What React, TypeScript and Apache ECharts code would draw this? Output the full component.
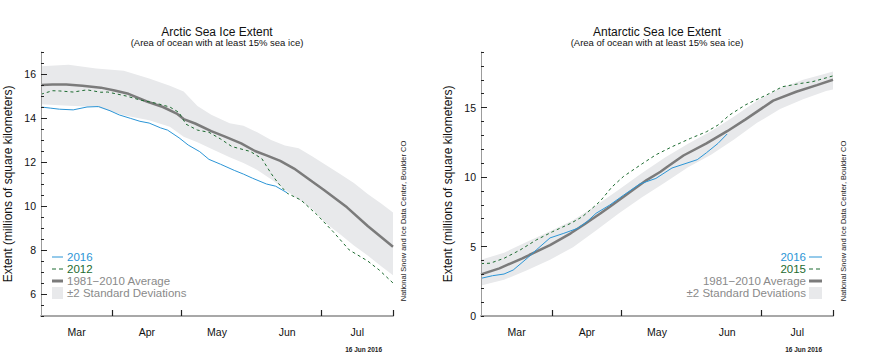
import React, { useEffect, useRef } from "react";
import * as echarts from "echarts";

// ---------- Data (day 0 = 1 March) ----------
const monthNames = ["Mar", "Apr", "May", "Jun", "Jul"];
const monthMidDays = [15.5, 46, 76.5, 107, 137.5];
const monthTickDays = [31, 61, 122, 153];

const arcticYLabels = [6, 8, 10, 12, 14, 16];
const antarcticYLabels = [0, 5, 10, 15];
const antarcticMajorTicks = [5, 10, 15];

const arctic2016: [number, number][] = [
  [0, 14.5], [4, 14.45], [8, 14.4], [14, 14.37], [20, 14.5], [25, 14.52], [30, 14.33],
  [34, 14.14], [39, 13.98], [43, 13.85], [47, 13.77], [52, 13.55], [55, 13.45], [60, 13.1],
  [64, 12.77], [69, 12.47], [73, 12.12], [78, 11.9], [84, 11.62], [88, 11.45], [92, 11.26],
  [98, 11.0], [102, 10.9], [107, 10.6],
];
const arctic2012: [number, number][] = [
  [0, 15.08], [5, 15.24], [8, 15.23], [14, 15.18], [20, 15.28], [26, 15.17], [29, 15.18],
  [37, 15.0], [43, 14.82], [50, 14.67], [56, 14.5], [60, 14.25], [63, 13.72], [68, 13.45],
  [73, 13.35], [78, 13.05], [83, 12.7], [91, 12.48], [96, 12.15], [100, 11.48], [103, 11.05],
  [107, 10.58], [113, 10.27], [120, 9.6], [127, 8.83], [134, 8.0], [142, 7.5], [147, 7.09],
  [153, 6.5],
];
const arcticAvg: [number, number][] = [
  [0, 15.5], [5, 15.52], [11, 15.52], [18, 15.47], [26, 15.38], [32, 15.25], [38, 15.1],
  [46, 14.75], [53, 14.5], [59, 14.2], [62, 13.95], [67, 13.75], [74, 13.4], [80, 13.15],
  [87, 12.85], [93, 12.5], [98, 12.3], [104, 12.05], [110, 11.7], [118, 11.1], [123, 10.73],
  [133, 9.94], [142, 9.09], [153, 8.15],
];
const arcticBandDays = [0, 12, 24, 36, 47, 56, 62, 68, 74, 82, 88, 94, 100, 106, 112, 118, 124, 130, 136, 142, 148, 153];
const arcticBandHigh = [16.35, 16.42, 16.25, 16.15, 15.8, 15.47, 15.2, 14.55, 14.15, 13.76, 13.65, 13.35, 13.0, 12.75, 12.62, 12.25, 11.85, 11.45, 11.05, 10.55, 10.1, 9.7];
const arcticBandLow = [14.62, 14.56, 14.5, 14.12, 13.9, 13.6, 13.15, 12.9, 12.6, 12.22, 11.95, 11.64, 11.22, 10.75, 10.3, 9.85, 9.2, 8.72, 8.2, 7.75, 7.25, 6.85];

const antarctic2016: [number, number][] = [
  [0, 2.71], [5, 2.9], [10, 3.02], [14, 3.31], [20, 4.15], [24, 4.75], [30, 5.62], [36, 5.95],
  [42, 6.31], [46, 6.78], [50, 7.39], [56, 7.99], [62, 8.7], [69, 9.5], [76, 9.9], [83, 10.65],
  [94, 11.25], [98, 11.75], [103, 12.42], [107, 13.1],
];
const antarctic2015: [number, number][] = [
  [0, 3.77], [4, 3.8], [10, 4.15], [17, 4.75], [24, 5.47], [31, 6.06], [39, 6.67], [44, 7.14],
  [50, 7.99], [52, 8.3], [57, 9.3], [62, 10.05], [70, 10.95], [76, 11.6], [83, 12.18],
  [91, 12.78], [98, 13.26], [103, 13.74], [108, 14.46], [115, 15.2], [124, 15.9], [131, 16.5],
  [139, 16.74], [144, 16.86], [153, 17.28],
];
const antarcticAvg: [number, number][] = [
  [0, 3.0], [8, 3.43], [18, 4.15], [21, 4.39], [30, 5.1], [39, 5.95], [45, 6.6], [52, 7.39],
  [56, 7.86], [62, 8.58], [69, 9.42], [72, 9.78], [78, 10.38], [81, 10.74], [88, 11.55],
  [98, 12.42], [107, 13.3], [115, 14.15], [127, 15.5], [137, 16.14], [146, 16.62], [153, 17.0],
];
const antarcticBandDays = [0, 10, 20, 30, 40, 50, 60, 70, 80, 90, 100, 110, 120, 130, 140, 150, 153];
const antarcticBandHigh = [4.05, 4.55, 5.35, 6.1, 6.9, 7.95, 9.1, 10.3, 11.4, 12.4, 13.3, 14.35, 15.5, 16.4, 17.0, 17.45, 17.6];
const antarcticBandLow = [2.2, 2.6, 3.3, 4.05, 4.95, 6.15, 7.4, 8.55, 9.6, 10.7, 11.6, 12.7, 13.9, 14.9, 15.6, 16.2, 16.3];

// ---------- Styles ----------
const FONT = "'Liberation Sans', Arial, Helvetica, sans-serif";
const BLUE = "#2b95d6";
const GREEN = "#1d6b30";
const AVG = "#7b7b7b";
const BAND = "#e8e9eb";
const LEGEND_GRAY = "#8a8a8a";
const TICK = "#222";

function monthFormatter(v: number) {
  let best = 0;
  for (let i = 0; i < monthMidDays.length; i++) {
    if (Math.abs(monthMidDays[i] - v) < Math.abs(monthMidDays[best] - v)) best = i;
  }
  return monthNames[best];
}

function makeXAxis(gridIndex: number) {
  return {
    gridIndex,
    type: "value",
    position: "bottom",
    min: 0,
    max: 153,
    z: 10,
    axisLine: { show: true, onZero: false, lineStyle: { color: "#a8a8a8", width: 2 } },
    axisTick: { show: true, inside: true, length: 6, customValues: monthTickDays, lineStyle: { color: TICK, width: 1.2 } },
    axisLabel: {
      customValues: monthMidDays,
      formatter: monthFormatter,
      margin: 10,
      fontSize: 10.5,
      fontFamily: FONT,
      color: "#111",
    },
    splitLine: { show: false },
  };
}

function bandSeries(xi: number, yi: number, days: number[], low: number[], high: number[]) {
  return {
    type: "custom",
    name: "±2 Standard Deviations",
    xAxisIndex: xi,
    yAxisIndex: yi,
    silent: true,
    z: 1,
    clip: true,
    encode: { x: 0, y: [1, 2] },
    data: days.map((d, i) => [d, low[i], high[i]]),
    renderItem: (params: any, api: any) => {
      if (params.dataIndex !== 0) return null;
      const pts: number[][] = [];
      for (let i = 0; i < days.length; i++) pts.push(api.coord([days[i], high[i]]));
      for (let i = days.length - 1; i >= 0; i--) pts.push(api.coord([days[i], low[i]]));
      return {
        type: "polygon",
        shape: { points: pts },
        style: { fill: BAND, stroke: null },
      };
    },
  };
}

function lineSeries(name: string, xi: number, yi: number, data: [number, number][], color: string, width: number, dashed: boolean, z: number) {
  return {
    type: "line",
    name,
    xAxisIndex: xi,
    yAxisIndex: yi,
    symbol: "none",
    data,
    z,
    lineStyle: { color, width, type: dashed ? [3, 3] : "solid" },
  };
}

function legendLeft(x: number, labels: string[], colors: string[]) {
  const ys = [257, 269, 281, 292.5];
  const els: any[] = [];
  els.push({ type: "line", z: 100, shape: { x1: x, y1: ys[0], x2: x + 11, y2: ys[0] }, style: { stroke: BLUE, lineWidth: 1 } });
  els.push({ type: "line", z: 100, shape: { x1: x, y1: ys[1], x2: x + 12, y2: ys[1] }, style: { stroke: GREEN, lineWidth: 1, lineDash: [4, 3] } });
  els.push({ type: "line", z: 100, shape: { x1: x, y1: ys[2], x2: x + 11, y2: ys[2] }, style: { stroke: AVG, lineWidth: 3 } });
  els.push({ type: "rect", z: 100, shape: { x, y: 287, width: 11, height: 12 }, style: { fill: BAND } });
  labels.forEach((t, i) => {
    els.push({
      type: "text",
      z: 100,
      x: x + 15,
      y: ys[i],
      style: { text: t, fill: colors[i], font: `11.5px ${FONT}`, align: "left", verticalAlign: "middle", textAlign: "left", textVerticalAlign: "middle" },
    });
  });
  return els;
}

function legendRight(xr: number, labels: string[], colors: string[]) {
  const ys = [257, 269, 281, 292.5];
  const sx = xr + 3;
  const els: any[] = [];
  els.push({ type: "line", z: 100, shape: { x1: sx, y1: ys[0], x2: sx + 13, y2: ys[0] }, style: { stroke: BLUE, lineWidth: 1 } });
  els.push({ type: "line", z: 100, shape: { x1: sx, y1: ys[1], x2: sx + 13, y2: ys[1] }, style: { stroke: GREEN, lineWidth: 1, lineDash: [4, 3] } });
  els.push({ type: "line", z: 100, shape: { x1: sx, y1: ys[2], x2: sx + 13, y2: ys[2] }, style: { stroke: AVG, lineWidth: 3 } });
  els.push({ type: "rect", z: 100, shape: { x: sx, y: 287, width: 13, height: 12 }, style: { fill: BAND } });
  labels.forEach((t, i) => {
    els.push({
      type: "text",
      z: 100,
      x: xr,
      y: ys[i],
      style: { text: t, fill: colors[i], font: `11.5px ${FONT}`, align: "right", verticalAlign: "middle", textAlign: "right", textVerticalAlign: "middle" },
    });
  });
  return els;
}

function titleTexts(cx: number, title: string) {
  return [
    {
      type: "text", x: cx, y: 31.5,
      style: { text: title, fill: "#111", font: `12px ${FONT}`, align: "center", verticalAlign: "middle", textAlign: "center", textVerticalAlign: "middle" },
    },
    {
      type: "text", x: cx, y: 42.5,
      style: { text: "(Area of ocean with at least 15% sea ice)", fill: "#111", font: `9.5px ${FONT}`, align: "center", verticalAlign: "middle", textAlign: "center", textVerticalAlign: "middle" },
    },
  ];
}

function sideTexts(x: number, dateX: number) {
  return [
    {
      type: "text", x, y: 221, rotation: Math.PI / 2,
      style: { text: "National Snow and Ice Data Center, Boulder CO", fill: "#222", font: `7.5px ${FONT}`, align: "center", verticalAlign: "middle", textAlign: "center", textVerticalAlign: "middle" },
    },
    {
      type: "text", x: dateX, y: 349,
      style: { text: "16 Jun 2016", fill: "#222", font: `bold 6.5px ${FONT}`, align: "right", verticalAlign: "middle", textAlign: "right", textVerticalAlign: "middle" },
    },
  ];
}

function yAxes(gridIndex: number, min: number, max: number, interval: number, labels: number[], major: number[]) {
  return [
    {
      gridIndex,
      type: "value",
      position: "left",
      min,
      max,
      interval,
      z: 10,
      axisLine: { show: true, lineStyle: { color: "#9c9c9c", width: 1 } },
      axisTick: { show: true, inside: true, length: 3, lineStyle: { color: TICK, width: 1 } },
      axisLabel: { customValues: labels, margin: 5, fontSize: 10.5, fontFamily: FONT, color: "#111" },
      splitLine: { show: false },
      name: "Extent (millions of square kilometers)",
      nameLocation: "middle",
      nameGap: 27,
      nameTextStyle: { fontSize: 12, fontFamily: FONT, color: "#111" },
    },
    {
      gridIndex,
      type: "value",
      position: "left",
      min,
      max,
      interval,
      z: 10,
      axisLine: { show: false },
      axisTick: { show: true, inside: true, length: 6, customValues: major, lineStyle: { color: TICK, width: 1 } },
      axisLabel: { show: false },
      splitLine: { show: false },
    },
  ];
}

export default function App() {
  const ref = useRef<HTMLDivElement>(null);

  useEffect(() => {
    if (!ref.current) return;
    const chart = echarts.init(ref.current, undefined, { renderer: "svg" });
    const legendLabels = ["2016", "2012", "1981\u22122010 Average", "±2 Standard Deviations"];
    const legendLabels2 = ["2016", "2015", "1981\u22122010 Average", "±2 Standard Deviations"];
    const legendColors = [BLUE, GREEN, LEGEND_GRAY, LEGEND_GRAY];

    chart.setOption({
      animation: false,
      backgroundColor: "#ffffff",
      textStyle: { fontFamily: FONT },
      grid: [
        { left: 41, top: 52, width: 352, height: 264, containLabel: false },
        { left: 481, top: 52, width: 352, height: 264, containLabel: false },
      ],
      xAxis: [makeXAxis(0), makeXAxis(1)],
      yAxis: [
        ...yAxes(0, 5, 17, 0.5, arcticYLabels, arcticYLabels),
        ...yAxes(1, 0, 19, 1, antarcticYLabels, antarcticMajorTicks),
      ],
      series: [
        bandSeries(0, 0, arcticBandDays, arcticBandLow, arcticBandHigh),
        lineSeries("1981\u22122010 Average", 0, 0, arcticAvg, AVG, 2.5, false, 3),
        lineSeries("2012", 0, 0, arctic2012, GREEN, 1, true, 4),
        lineSeries("2016", 0, 0, arctic2016, BLUE, 1, false, 5),
        bandSeries(1, 2, antarcticBandDays, antarcticBandLow, antarcticBandHigh),
        lineSeries("1981\u22122010 Average", 1, 2, antarcticAvg, AVG, 2.5, false, 3),
        lineSeries("2015", 1, 2, antarctic2015, GREEN, 1, true, 4),
        lineSeries("2016", 1, 2, antarctic2016, BLUE, 1, false, 5),
      ],
      graphic: [
        ...titleTexts(217, "Arctic Sea Ice Extent"),
        ...titleTexts(657, "Antarctic Sea Ice Extent"),
        ...legendLeft(52, legendLabels, legendColors),
        ...legendRight(806, legendLabels2, legendColors),
        ...sideTexts(403, 382),
        ...sideTexts(843, 822),
      ],
    });
    return () => chart.dispose();
  }, []);

  return (
    <div
      ref={ref}
      style={{ position: "absolute", left: 0, top: 0, width: 880, height: 352 }}
    />
  );
}
